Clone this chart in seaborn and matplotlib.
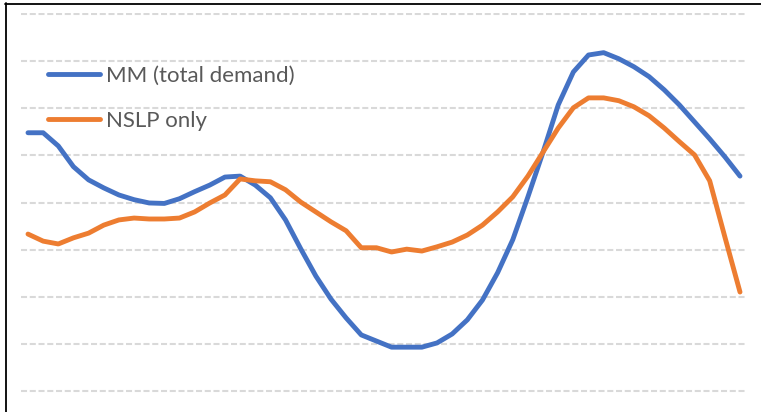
import matplotlib
matplotlib.use("Agg")
import matplotlib.pyplot as plt
from matplotlib.lines import Line2D
import numpy as np
import pandas as pd
import seaborn as sns

# Half-hourly profile over one day (48 settlement periods)
periods = list(range(1, 49))

mm_total_demand = [
    5.48, 5.48, 5.20, 4.76, 4.48, 4.31, 4.16, 4.06, 3.99, 3.98,
    4.08, 4.23, 4.37, 4.54, 4.56, 4.37, 4.10, 3.63, 3.02, 2.44,
    1.95, 1.55, 1.19, 1.06, 0.93, 0.93, 0.93, 1.02, 1.21, 1.51,
    1.93, 2.51, 3.21, 4.12, 5.07, 6.07, 6.77, 7.13, 7.18, 7.05,
    6.88, 6.67, 6.39, 6.07, 5.71, 5.35, 4.97, 4.56,
]

nslp_only = [
    3.33, 3.18, 3.12, 3.25, 3.35, 3.52, 3.63, 3.67, 3.65, 3.65,
    3.67, 3.80, 3.99, 4.16, 4.50, 4.46, 4.44, 4.27, 4.01, 3.80,
    3.59, 3.40, 3.04, 3.04, 2.95, 3.01, 2.97, 3.06, 3.16, 3.31,
    3.52, 3.80, 4.12, 4.56, 5.07, 5.58, 6.01, 6.22, 6.22, 6.16,
    6.03, 5.84, 5.58, 5.29, 5.01, 4.46, 3.27, 2.10,
]

series_names = ["MM (total demand)", "NSLP only"]
series_colors = ["#4472C4", "#ED7D31"]
grid_levels = list(range(0, 9))

df = pd.DataFrame({
    "period": periods * 2,
    "value": mm_total_demand + nslp_only,
    "series": [series_names[0]] * len(periods) + [series_names[1]] * len(periods),
})

sns.set_theme(style="white")
plt.rcParams["font.family"] = ["Lato", "DejaVu Sans"]

W, H = 761, 412
fig = plt.figure(figsize=(W / 100, H / 100), dpi=100)
fig.patch.set_facecolor("white")

# plot area: gridlines span x 21..747 px, top gridline at y=14, bottom one at y=391
px_per_unit = (391 - 14) / 8
top_px = 13
ax = fig.add_axes([21 / W, 0, (747 - 21) / W, (H - top_px) / H])

sns.lineplot(
    data=df, x="period", y="value", hue="series",
    palette=dict(zip(series_names, series_colors)),
    linewidth=3.5, ax=ax, legend=False,
    solid_capstyle="round", solid_joinstyle="round",
)

step_px = (740 - 28) / 47
ax.set_xlim(1 - 7 / step_px, 48 + 7 / step_px)
ax.set_ylim(-(H - 391) / px_per_unit, 8 + (14 - top_px) / px_per_unit)

ax.set_yticks(grid_levels)
ax.set_xticks([])
ax.yaxis.grid(True, color="#D9D9D9", linewidth=1.5, linestyle=(0, (2.9, 1.3)))
ax.xaxis.grid(False)
ax.set_axisbelow(True)
ax.tick_params(left=False, bottom=False, labelleft=False, labelbottom=False)
ax.set_xlabel("")
ax.set_ylabel("")
for s in ax.spines.values():
    s.set_visible(False)

handles = [
    Line2D([0], [0], color=c, linewidth=3.5, solid_capstyle="round")
    for c in series_colors
]
leg = ax.legend(
    handles, series_names, frameon=False, loc="upper left",
    bbox_to_anchor=(48 / W, 1 - 65.5 / H), bbox_transform=fig.transFigure,
    fontsize=16, handlelength=2.35, handletextpad=0.27, labelspacing=1.13,
    borderpad=0, borderaxespad=0,
)
for t in leg.get_texts():
    t.set_color("#595959")

# chart frame (left and top edges)
fig.add_artist(Line2D([5.5 / W, 5.5 / W], [0, 1 - 3 / H], transform=fig.transFigure,
                      color="black", linewidth=1.3))
fig.add_artist(Line2D([5 / W, 1], [1 - 3.5 / H, 1 - 3.5 / H], transform=fig.transFigure,
                      color="black", linewidth=1.3))

fig.savefig("out.png", dpi=100, facecolor="white")
